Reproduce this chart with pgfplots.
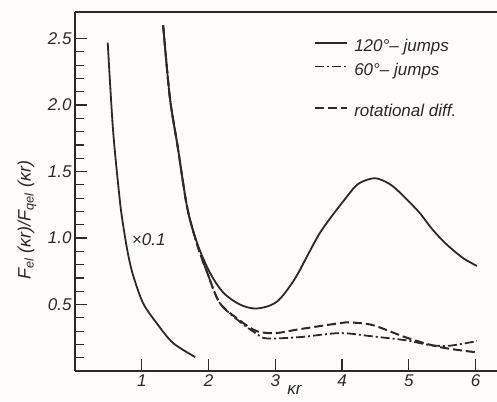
\documentclass[border=0pt]{standalone}
\usepackage{pgfplots}
\pgfplotsset{compat=1.18}
\usepackage{fontspec}
\setmainfont{Liberation Sans}
\definecolor{paper}{HTML}{FDFCF8}
\definecolor{ink}{HTML}{2A2A2A}

\newcommand{\lblfont}{\fontsize{17}{20}\selectfont\itshape}

\begin{document}
\begin{tikzpicture}
\path[use as bounding box, fill=paper] (-75pt,-30pt) rectangle (422pt,371pt);
\begin{axis}[
    at={(0pt,0pt)}, anchor=south west,
    scale only axis,
    width=422pt, height=359pt,
    xmin=0, xmax=6.32,
    ymin=0, ymax=2.7,
    axis x line*=box,
    axis y line*=left,
    xtick pos=bottom,
    ytick pos=left,
    axis line style={ink, line width=1.3pt},
    tick style={ink, line width=1.2pt},
    tick align=inside,
    major tick length=12pt,
    minor tick length=9pt,
    xtick={1,2,3,4,5,6},
    ytick={0.5,1.0,1.5,2.0,2.5},
    minor ytick={0.1,0.2,0.3,0.4,0.6,0.7,0.8,0.9,1.1,1.2,1.3,1.4,1.6,1.7,1.8,1.9,2.1,2.2,2.3,2.4},
    yticklabel style={/pgf/number format/.cd, fixed, fixed zerofill, precision=1},
    /pgf/number format/assume math mode=true,
    ticklabel style={font=\lblfont, text=ink},
    xlabel={\lblfont κr},
    xlabel style={at={(axis description cs:0.52,-0.052)}, anchor=center, text=ink},
    ylabel={\fontsize{18}{21}\selectfont\itshape F\textsubscript{el} (κr)/F\textsubscript{qel} (κr)},
    ylabel style={at={(axis description cs:-0.114,0.42)}, anchor=center, rotate=0, text=ink},
    legend style={draw=none, fill=none, at={(axis cs:3.58,2.51)}, anchor=north west,
        font=\lblfont, text=ink, row sep=6pt, inner sep=0pt},
    legend cell align=left,
    legend image code/.code={\draw[#1] (0pt,0.36em) -- (32pt,0.36em); \path (36pt,0.36em);},
    every axis plot/.append style={smooth, tension=0.5, ink},
]
\addplot[line width=1.8pt] coordinates {
    (1.32,2.60) (1.42,2.06) (1.54,1.68) (1.68,1.23) (1.83,0.96) (2.02,0.74)
    (2.22,0.59) (2.47,0.50) (2.72,0.47) (3.02,0.52) (3.30,0.70) (3.67,1.04)
    (4.07,1.31) (4.25,1.41) (4.49,1.45) (4.70,1.41) (4.87,1.34) (5.16,1.19)
    (5.36,1.06) (5.57,0.95) (5.81,0.85) (6.02,0.79)
};
\addlegendentry{120°– jumps}

\addplot[line width=1.8pt, dash pattern=on 9pt off 3pt on 2pt off 3pt] coordinates {
    (1.32,2.60) (1.42,2.06) (1.54,1.68) (1.68,1.23) (1.83,0.95) (1.98,0.74)
    (2.17,0.51) (2.47,0.37) (2.72,0.28) (2.87,0.245) (3.37,0.255) (3.97,0.285)
    (4.46,0.26) (4.97,0.23) (5.31,0.195) (5.61,0.19) (6.02,0.225)
};
\addlegendentry{60°– jumps}

% spacer row in the legend
\addlegendimage{empty legend}
\addlegendentry[font=\fontsize{2}{2}\selectfont]{\rule{0pt}{6pt}}

\addplot[line width=2pt, dash pattern=on 9pt off 4pt] coordinates {
    (1.32,2.60) (1.42,2.06) (1.54,1.68) (1.68,1.23) (1.83,0.95) (1.98,0.74)
    (2.17,0.51) (2.47,0.38) (2.72,0.30) (3.00,0.285) (3.37,0.315) (3.97,0.36)
    (4.12,0.365) (4.46,0.345) (4.97,0.25) (5.46,0.18) (6.02,0.14)
};
\addlegendentry{rotational diff.}

\addplot[line width=1.8pt, forget plot] coordinates {
    (0.49,2.47) (0.57,1.81) (0.67,1.29) (0.72,1.10) (0.79,0.89) (0.87,0.72)
    (1.02,0.51) (1.23,0.355) (1.47,0.21) (1.80,0.105)
};
\node[anchor=west, font=\lblfont, text=ink, inner sep=0pt] at (axis cs:0.85,0.99) {×0.1};
\end{axis}
\end{tikzpicture}
\end{document}
